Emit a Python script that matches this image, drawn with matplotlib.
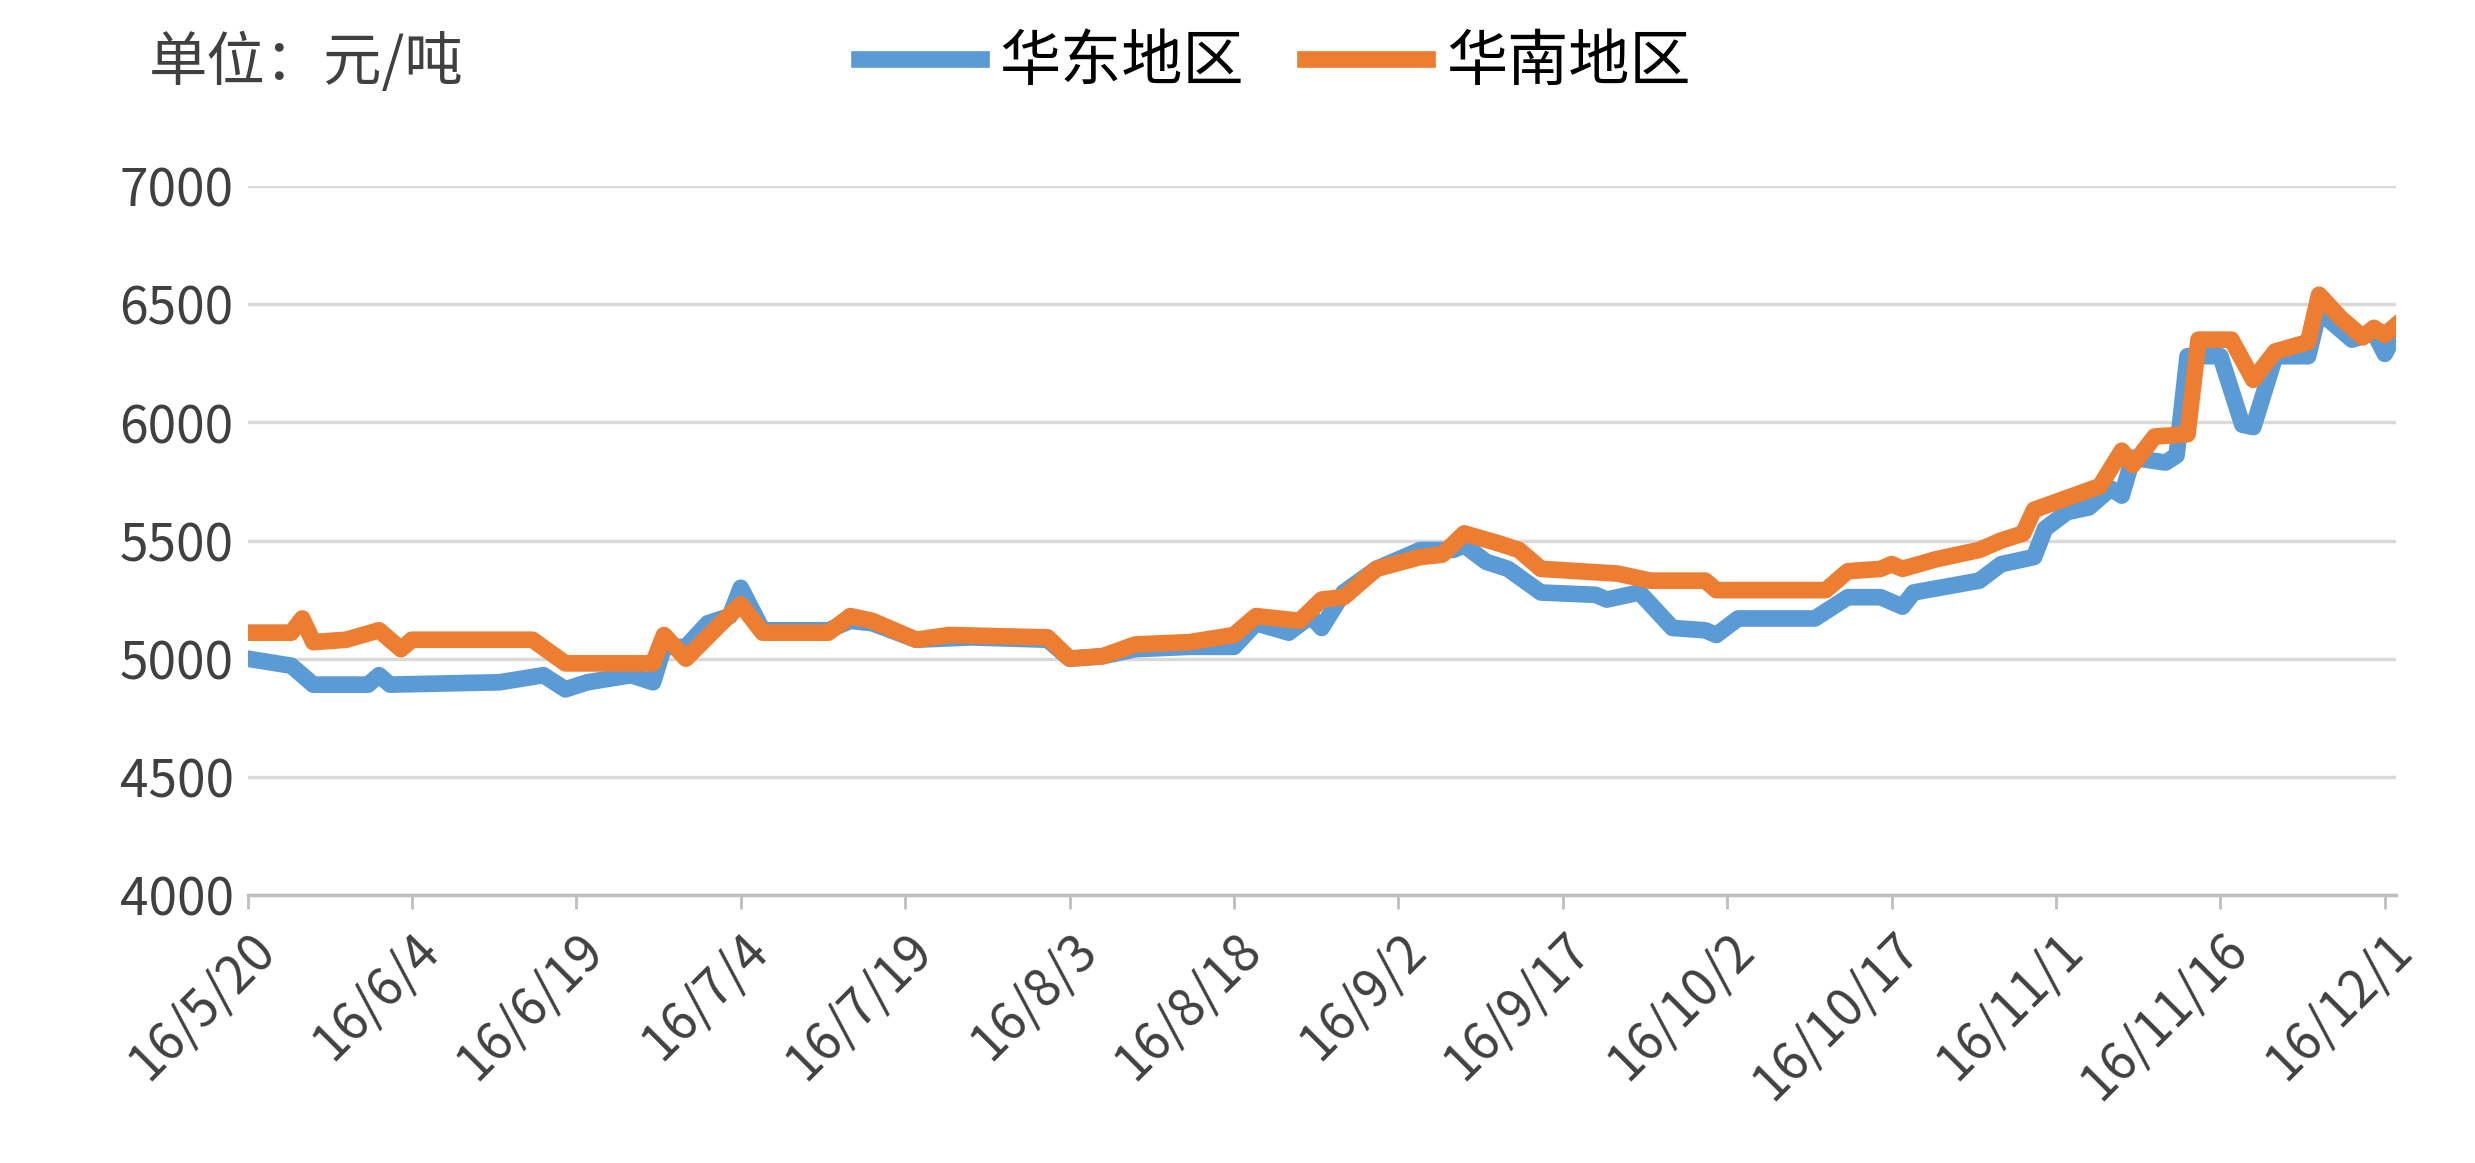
import matplotlib
matplotlib.use("Agg")
import matplotlib.pyplot as plt
import pandas as pd

plt.rcParams['font.family'] = ['Noto Sans CJK SC', 'DejaVu Sans']

east_dates = ["5/20","5/24","5/26","5/31","6/1","6/2","6/12","6/16","6/18","6/20","6/24","6/26","6/27","6/29","7/1","7/3","7/4","7/6","7/12","7/14","7/16","7/20","7/25","8/1","8/3","8/6","8/9","8/14","8/18","8/20","8/23","8/25","8/26","8/28","8/31","9/2","9/4","9/7","9/8","9/10","9/12","9/15","9/20","9/21","9/24","9/27","9/30","10/1","10/3","10/10","10/13","10/16","10/18","10/19","10/25","10/27","10/30","10/31","11/2","11/4","11/6","11/7","11/8","11/11","11/12","11/13","11/16","11/18","11/19","11/21","11/24","11/25","11/28","11/30","12/1","12/2"]
east_vals = [5000,4970,4890,4890,4930,4890,4900,4930,4870,4900,4930,4900,5050,5050,5150,5180,5300,5120,5120,5160,5150,5080,5090,5080,5000,5010,5040,5050,5050,5150,5110,5180,5130,5280,5380,5420,5460,5460,5480,5410,5380,5280,5270,5250,5280,5130,5120,5100,5170,5170,5260,5260,5220,5280,5330,5400,5430,5550,5620,5640,5720,5690,5850,5830,5860,6280,6280,5990,5980,6280,6280,6470,6350,6380,6290,6380]

south_dates = ["5/20","5/24","5/25","5/26","5/29","6/1","6/3","6/4","6/15","6/18","6/26","6/27","6/29","7/2","7/4","7/6","7/12","7/14","7/16","7/20","7/23","8/1","8/3","8/6","8/9","8/14","8/18","8/20","8/24","8/26","8/28","8/31","9/4","9/6","9/8","9/11","9/13","9/15","9/22","9/25","9/30","10/1","10/11","10/13","10/16","10/17","10/18","10/21","10/25","10/27","10/29","10/30","11/2","11/5","11/7","11/8","11/10","11/13","11/14","11/17","11/19","11/21","11/24","11/25","11/27","11/29","11/30","12/1","12/2"]
south_vals = [5110,5110,5170,5070,5080,5120,5040,5080,5080,4980,4980,5100,5000,5140,5230,5110,5110,5180,5160,5080,5100,5090,5000,5010,5060,5070,5100,5180,5160,5250,5260,5380,5430,5440,5530,5490,5460,5380,5360,5330,5330,5290,5290,5370,5380,5400,5380,5420,5460,5500,5530,5630,5680,5730,5880,5820,5940,5950,6350,6350,6180,6300,6340,6540,6440,6360,6400,6370,6410]

series_names = ["华东地区", "华南地区"]
colors = ["#5B9BD5", "#ED7D31"]

def to_dt(lst):
    return pd.to_datetime(["2016/" + d for d in lst], format="%Y/%m/%d")

fig = plt.figure(figsize=(24.75, 11.63), dpi=100)
ax = fig.add_axes([0.100, 0.2305, 0.868, 0.6095])
ax.plot(to_dt(east_dates), east_vals, color=colors[0], lw=12, label=series_names[0], solid_joinstyle='round')
ax.plot(to_dt(south_dates), south_vals, color=colors[1], lw=12, label=series_names[1], solid_joinstyle='round')

ax.set_ylim(4000, 7000)
ax.set_yticks(range(4000, 7001, 500))
start = pd.Timestamp("2016-05-20")
ax.set_xlim(start, pd.Timestamp("2016-12-02"))
ticks = pd.date_range(start, pd.Timestamp("2016-12-01"), freq="15D")
ax.set_xticks(ticks)
ax.set_xticklabels([f"{d.year % 100}/{d.month}/{d.day}" for d in ticks], rotation=45, ha='right', rotation_mode='anchor')
ax.tick_params(axis='both', labelsize=37, colors='#404040', length=0, pad=10)
ax.tick_params(axis='x', length=10, width=2, color='#bfbfbf', direction='out')
ax.grid(axis='y', color='#d9d9d9', lw=2.5)
ax.set_axisbelow(True)
for s in ['top', 'right', 'left']:
    ax.spines[s].set_visible(False)
ax.spines['bottom'].set_color('#bfbfbf')
ax.spines['bottom'].set_linewidth(2.5)

fig.text(0.06, 0.945, "单位：元/吨", fontsize=42, color='#404040', va='center')
fig.legend(loc='upper center', bbox_to_anchor=(0.515, 1.02), ncol=2, frameon=False,
           fontsize=44, handlelength=2.0, columnspacing=1.0, handletextpad=0.3)
fig.savefig("out.png", dpi=100, facecolor='white')
